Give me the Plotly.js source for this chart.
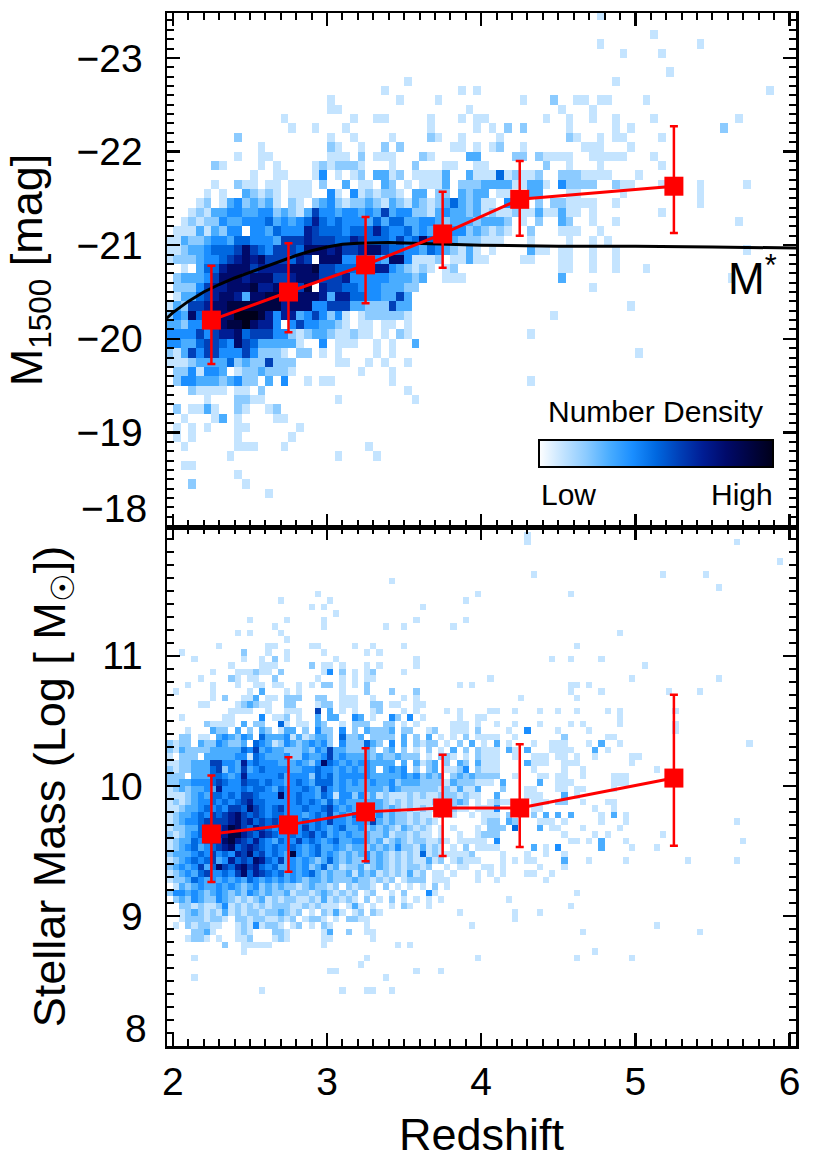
<!DOCTYPE html>
<html><head><meta charset="utf-8">
<script src="https://cdn.plot.ly/plotly-3.0.1.min.js"></script>
<style>html,body{margin:0;padding:0;background:#fff}</style>
</head><body>
<div id="chart" style="width:822px;height:1160px"></div>
<script>
// ---------- DATA ----------
// Density levels per cell ('.' = empty, 1..9, a = 10). Top panel: redshift bins 0.05 from 1.95, M1500 bins 0.1 from -23.5 (top row) downward.
const topRows = [
".......... .......... .......... .......... .......... ......1...",
"",
".......... .......... .......... .......... .......... .......... ...1",
".......... .......... .......... .......... .......... ......1... .........1",
".......... .......... .......... .......... .......... .........1 ....1",
"",
".......... .......... .......... .......... .......... .......... .....1",
".......... .......... .......... .1........ .......... ........1.",
".......... .......... ........1. ........1. 1......... .......... .......... ........1.",
".......... .......... .1........ 1....1.... ......1... 2..11.11.. ..1",
".......... .......... .11....... .........1 .......... .1...1",
".......... .....1.... ....1..11. ....1...1. 11.......1 ..1..1..1. ...1...... ....1",
".......... ......1..1 ...1...... ....1..... 1.1.2.2... ..1.....1. 1......... ..2",
".........2 .......... .1..1....1 ....21..1. ...1...... ..21..1.11 ....1",
".......... ..1....... .21..1..2. 2......11. 1.12..1... ....111... 1",
".........1 ..11...... .111.2.111 ...21....3 3....22.21 111..11111 ...1",
"......21.. ..1.1....1 212221...1 ..2...11.. 11.......2 ..1...1... ....1",
".......... .1..11...1 4.1.12.331 2.11113..3 111512112. .2221111.. .1",
"......1..2 11.11.111. 2..3.11.32 .1.1113.22 2333311331 .42222..21 1...1....1 .....1",
".....1.1.. 32121.111. .41.412122 1.33.22.32 33.11..33. ..11.....1 .........1",
"....12.134 23231.21.2 3421223213 2132123532 311.41..2. 221111..1. .........1",
"...1213344 3344232136 4434434363 4422134332 3121121131 1311.1.... ....1",
"..12122433 4445343457 5454443535 5334432333 23332.1.2. .32..1..1. .......... ....1",
".111313244 .443544476 5554555754 4534344442 32121..2.. .111..1...",
"1132234435 5444366676 6655765554 6458555322 2111...1.. ..1..1.1..",
"1123345556 8654666588 8786678865 5443543213 1.1....311 .11..1..1. .......... .....1",
"1222344567 878666576. 8884454438 841112.113 11....11.. .11..1..1.",
"..1.355788 8677778889 6655547774 32121.12.. .......... .11..1..1. ..1",
".233346888 7888667888 6667444443 3323..111. .......... .3........ .......... ...1",
".222467788 897788869. 7665544433 322....... .......... .....1",
".133567887 3889988888 7377554433 63",
"1326678899 9999978884 4666332226 33........ .......... .......... 1",
"243856788a aa97477346 4241.12222 21........ .......... 1",
"3324477899 a8774.4644 3321.11.11 .1",
"4444646778 5666442123 3211211.1. 21........ .......1",
"4433566548 65333331.. 4.111..1.1 ..3",
"2136466444 642221.22. 1.1....1.1 .......... .......... .......... .1",
"1112333352 3226222... ..11..1.1. .1",
".2241443.1 2232221... .....1...1",
".244333234 22.3.4..1. 11.......1 .......... .......1",
"...21111.1 1.2....... .......... .1",
".....1...2 211....... ..1....... ..1",
".2.1131..2 1..12",
"..1...13.1 ....11",
".1.1.1...1 1......1",
".1.1.....1 ......1",
"..1......1 11...1.... ......1",
"........1. .......... ..1....1",
"..11",
".........1",
"...2...... 1",
".......... ...1",
"", "", ""
];

// Bottom panel: redshift bins 0.04 from 1.96, stellar-mass bins 0.05 from 12.0 (top row) downward.
const botRows = [
"",
".......... .......... .......... .......... .......... ........1.",
".......... .......... .......... .......... .......... ........1. .......... .......... .......... ..1",
"", "",
".......... .......... .......... .......... .......... .......... .......... .......... .......... .........1",
"",
".......... .......... .......... .......... .......... .........1 .......... .......... 1......1",
".......... .......... .......... ......1",
".......... .......... .......... .......... .......... .......... .......... .......... .........1",
".......... .......... ....1..... .......... .......... 1......... .....1",
".......... ........1. ......1... .......... ........1",
".......... .......... ...1.1.... .......... .1",
".......... .......... .......1",
".......... ...1.....1 .....1.... .......... 1.......1",
".......... .......1.. .....1.... .....1..1. ......1",
".......... .1.1....1. .......... .......... .......... .......... .......... ...1",
".......... .........1",
"........1. ......11.. ...11..... 1..1....1. .......... .......... ......1",
"..1....... ..2...1..1 .....1.... ..1.1",
"....1..... ..1..1.2.1 .......1.. .......... 1......... .......... ..1..1.... 1",
".......... 1....111.. ...2.11.1. ..1.1..... 1......... .......... .......... .......1",
".......1.. .111211.2. .....14.2. 1.12....1.",
".....1.... 21.11..2.. ....1...1. 1.11...... .......... ..1....... .......... .....1.... .........1",
"...1...1.. .1..11.11. .1.1.22.1. 1.2....... .......1.1 .......... .....11.1.",
".1.....1.. ...1.3...1 .1......1. ..2...2... 2......... .......... .....1.... 1......... .1....1",
".......1.2 ..113.11.2 22..22..11 1..1....1. 1......... .......1.. ......1",
".....11... .123211..2 2...122.11 1..22.11.. 11",
".......... 1111..1..1 11..6.3.1. 1..12...1. 1....1.1.. ..11..1... 1..1..1... .1.1...... ..1",
"..1......1 1....4.112 .1..3.33.. 43.1..42.4 .1.....1.. 11........ .......... ...1",
"......2111 1.3.22..51 .11.32..1. 222..22.1. 1.....111. 1..1..1... 1....1.1.. ...1...... ..1",
"...1...322 .3.2.32.13 3.2.422.4. 2.32223.22 ..12..111. 2....1..4. ...1....1. .......... ..1",
"..22.11.34 3243.53334 1312332.52 23.2222.3. 2.3.1.1.2. 1111..1... ....2..... .11",
"2122.32243 223.543124 3234342.42 22532.4.3. 2122.1.2.3 .1.3.1...1 ..111...1. 3..1...... .......... ....1",
"2132222333 3354634332 2232436332 2232.23.2. 1.2.1.3.2. 2111.31.3. ..1111...3 .1",
"1.222.3333 3441543334 2243346343 3332322322 2.1.221.1. 2111..1..1 11.11.1..1 .....11",
"1122333664 4374544433 3432485434 3443333.3. 3123.2.32. 3111....31 11..111... .....1",
"2122333562 4363454444 3344544343 4343.3434. 2.23.1124. 2111.....1 ....1..1.. .........1",
"222.333554 3474444453 4442545344 4443333343 42323.2323 2222..1... 11.11..1.. ..111",
"2233444565 4465545443 4543555343 4334334233 3222213222 111.3..... 3..111.... ..111",
"1232334374 4454554354 4454364343 3333324322 2222121311 3...2...11 ...11.11.. ..1",
"1112343554 5466544484 4544354144 2423121112 1211222121 1..3....11 1...3.1",
"1212344545 4567554444 4545435343 3333321212 111221232. 1.12111..1 11.22..1.. .11",
"1123345454 6658654564 4454456434 3333323212 121111211. 1114.....1 1........1 ..1",
"1233454656 7865654554 4434546343 5433423221 211.2.1..1 .111.2...2 .3.3.3.... 1.3.1",
"1234456666 7867565655 5454546443 4436323221 2121...... .122.32... 111.1..... 1...1..... .......... ..1",
"1223356667 9865765454 5464543453 3423232132 121.1.1... 1.222.5... 3.11...1.. ...1",
"2123456677 9976576544 5456453434 3332231221 211.1..1.. 1222...... ....1....1 .1........ 1",
"1233545668 9765754354 4645434533 4432312321 221121.111 11.4...... .....11.1. 3...1..... .......... ...1",
"1234534567 8567654544 5434533432 3323232422 13121.1.2. 1111.....3 .1.4...... 3....1...1",
"2333454645 4768564543 9434534323 2342321212 1512111112 ....1...1. .1..1",
"1234545634 7565875463 4343235323 2242321212 11312.1211 1...1.1.11 ....3...1. ....1..... ....1..... ..1",
"2343463586 5786754533 4342352312 2312321212 212..1.11. .11.1..... 1...1",
"1234356445 4685765453 4345323223 1323121213 12.11.1... 1.1.1...11 ..1",
"1223543434 3435434343 4323323222 3221212.12 22.111.... 1..1...... .1",
".132343343 4323423232 21232212.2 1221.2.1.1 .1.2.1....",
"2443432343 2324323223 1221232121 2.12..1.2. ..41...... .......... ......1",
".232432243 2121231212 2112131212 1.2.1.2.1. 1.1.1..... .....1",
"..22121124 1212121222 11212111.1 31.1..1.21 ..1....... .......... .....1",
"..12321213 1212212232 12.1.2131. 12.21..... .......1.. ......1... 1",
"..12221221 .221221121 2.1221.1.2 211....... .......... ......1",
".1.212211. .12141221. 12.1.21... ..1....... .........1 .......... .......... .........1",
"....2231.. .121...221 .....13..2 ..11...... .......... .......... .......1.. .......... ......1",
"...1221.1. .112...121 .....11... ...1",
".........2 ..11111... .....1.... .......1.1",
".......... ..1....... .......... .......... .......... .......... .........1",
"....1..... .......... .......... ..1....... .......... 1......... ......1... .....1",
".......... .......... .......... .1",
".......... .......... ......11.. .......... 1...1",
"....1..... .......... .......... .....1",
"",
".......... .....1.... ........1. ..11..1",
"", "", "", "", "", "", "", ""
];

// M* characteristic magnitude curve
const mstarZ = [1.96, 2.0, 2.1, 2.2, 2.3, 2.4, 2.5, 2.6, 2.7, 2.8, 2.9, 3.0, 3.1, 3.2, 3.4, 3.6, 3.8, 4.0, 4.5, 5.0, 5.5, 6.05];
const mstarM = [-20.22, -20.28, -20.40, -20.50, -20.58, -20.65, -20.71, -20.77, -20.83, -20.89, -20.94, -20.98, -21.01, -21.02, -21.03, -21.02, -21.01, -21.00, -20.99, -20.99, -20.98, -20.97];

// Medians in redshift bins
const medZ = [2.25, 2.75, 3.25, 3.75, 4.25, 5.25];
const medM1500 = [-20.20, -20.50, -20.79, -21.12, -21.49, -21.63];
const m1500ErrBright = [0.58, 0.52, 0.51, 0.45, 0.41, 0.64];
const m1500ErrFaint = [0.47, 0.43, 0.41, 0.36, 0.39, 0.50];
const medMass = [9.63, 9.70, 9.80, 9.83, 9.83, 10.06];
const massErrHi = [0.45, 0.52, 0.49, 0.41, 0.49, 0.64];
const massErrLo = [0.37, 0.36, 0.38, 0.37, 0.30, 0.52];

// Tick labels
const m1500Ticks = [-23, -22, -21, -20, -19];
const massTicks = [9, 10, 11];
const zTicks = [2, 3, 4, 5, 6];

// ---------- BUILD ----------
const LEVELS = '.123456789a';
function parseRows(rows, ncol) {
  return rows.map(function (s) {
    s = s.replace(/ /g, '');
    const out = [];
    for (let i = 0; i < ncol; i++) {
      const v = LEVELS.indexOf(s[i] || '.');
      out.push(v > 0 ? v : null);
    }
    return out;
  });
}
const topNx = 81, botNx = 102;
const topX = Array.from({length: topNx}, (_, i) => 1.975 + 0.05 * i);
const topY = topRows.map((_, r) => -23.45 + 0.1 * r);
const botX = Array.from({length: botNx}, (_, i) => 1.98 + 0.04 * i);
const botY = botRows.map((_, r) => 11.975 - 0.05 * r);

const cscale = [
  [0.0, '#ffffff'], [0.1, '#c4e4ff'], [0.2, '#8ccbff'], [0.3, '#4aadff'],
  [0.4, '#1a8eff'], [0.5, '#0068e0'], [0.6, '#0040b8'], [0.7, '#001d94'],
  [0.8, '#000a6a'], [0.9, '#000442'], [1.0, '#00001a']
];

const FONT = 'Liberation Sans, Arial, Helvetica, sans-serif';
const RED = '#ff0000';

const traces = [
  {type: 'heatmap', x: topX, y: topY, z: parseRows(topRows, topNx), xaxis: 'x', yaxis: 'y',
   zmin: 0, zmax: 10, colorscale: cscale, hoverinfo: 'skip', zsmooth: false,
   showscale: true,
   colorbar: {orientation: 'h', x: 0.777, xanchor: 'center', y: 0.5586, yanchor: 'bottom',
              len: 234, lenmode: 'pixels', thickness: 27, thicknessmode: 'pixels',
              outlinewidth: 2, outlinecolor: '#000', showticklabels: false, ticks: '',
              xpad: 0, ypad: 0, borderwidth: 0}},
  {type: 'heatmap', x: botX, y: botY, z: parseRows(botRows, botNx), xaxis: 'x2', yaxis: 'y2',
   zmin: 0, zmax: 10, colorscale: cscale, hoverinfo: 'skip', zsmooth: false, showscale: false},
  {type: 'scatter', mode: 'lines', x: mstarZ, y: mstarM, xaxis: 'x', yaxis: 'y',
   line: {color: '#000', width: 3}, hoverinfo: 'skip'},
  {type: 'scatter', mode: 'lines+markers', x: medZ, y: medM1500, xaxis: 'x', yaxis: 'y',
   line: {color: RED, width: 3}, marker: {symbol: 'square', size: 19, color: RED},
   error_y: {type: 'data', symmetric: false, array: m1500ErrFaint, arrayminus: m1500ErrBright,
             color: RED, thickness: 2.5, width: 4}, hoverinfo: 'skip'},
  {type: 'scatter', mode: 'lines+markers', x: medZ, y: medMass, xaxis: 'x2', yaxis: 'y2',
   line: {color: RED, width: 3}, marker: {symbol: 'square', size: 19, color: RED},
   error_y: {type: 'data', symmetric: false, array: massErrHi, arrayminus: massErrLo,
             color: RED, thickness: 2.5, width: 4}, hoverinfo: 'skip'}
];

function ax(extra) {
  return Object.assign({
    showline: true, linecolor: '#000', linewidth: 2.5, mirror: 'allticks',
    ticks: 'inside', ticklen: 13, tickwidth: 2.5, tickcolor: '#000',
    showgrid: false, zeroline: false,
    tickfont: {family: FONT, size: 39, color: '#000'},
    minor: {ticks: 'inside', ticklen: 7, tickwidth: 2, tickcolor: '#000', dtick: 0.1, showgrid: false}
  }, extra);
}
const titleFont = {family: FONT, size: 45, color: '#000'};
const tickFontAnn = {family: FONT, size: 39, color: '#000'};

const layout = {
  width: 822, height: 1160,
  margin: {l: 167, r: 26, t: 13, b: 114},
  paper_bgcolor: '#fff', plot_bgcolor: 'rgba(0,0,0,0)',
  showlegend: false,
  font: {family: FONT, color: '#000'},
  xaxis: ax({range: [1.962, 6.042], anchor: 'y', showticklabels: false, matches: 'x2',
             tickmode: 'array', tickvals: zTicks}),
  xaxis2: ax({range: [1.962, 6.042], anchor: 'y2', ticklabelstandoff: 0,
              tickmode: 'array', tickvals: zTicks, ticktext: zTicks.map(String),
              title: {text: 'Redshift', font: titleFont, standoff: 18}}),
  yaxis: ax({domain: [0.5024, 1], range: [-17.99, -23.48], anchor: 'x', ticklabelstandoff: 14,
             tickmode: 'array', tickvals: m1500Ticks, ticktext: m1500Ticks.map(v => '\u2212' + Math.abs(v)),
             title: {text: 'M<sub>1500</sub> [mag]', font: titleFont, standoff: 20}}),
  yaxis2: ax({domain: [0, 0.5024], range: [8, 11.99], anchor: 'x2', ticklabelstandoff: 14,
              tickmode: 'array', tickvals: massTicks, ticktext: massTicks.map(String),
              title: {text: 'Stellar Mass (Log [ M<sub>☉</sub>])', font: titleFont, standoff: 20}}),
  annotations: [
    {xref: 'x', yref: 'y', x: 5.59, y: -20.68, xanchor: 'left', yanchor: 'middle', showarrow: false,
     text: 'M<sup>*</sup>', font: {family: FONT, size: 44, color: '#000'}},
    {xref: 'paper', yref: 'paper', x: 0.776, y: 0.6138, xanchor: 'center', yanchor: 'middle', showarrow: false,
     text: 'Number Density', font: {family: FONT, size: 30, color: '#000'}},
    {xref: 'paper', yref: 'paper', x: 0.5914, y: 0.5334, xanchor: 'left', yanchor: 'middle', showarrow: false,
     text: 'Low', font: {family: FONT, size: 30, color: '#000'}},
    {xref: 'paper', yref: 'paper', x: 0.9666, y: 0.5334, xanchor: 'right', yanchor: 'middle', showarrow: false,
     text: 'High', font: {family: FONT, size: 30, color: '#000'}},
    // lowest tick labels, set slightly above the panel edge as in the original
    {xref: 'paper', yref: 'paper', x: -0.029, y: 0.5208, xanchor: 'right', yanchor: 'middle', showarrow: false,
     text: '\u221218', font: tickFontAnn},
    {xref: 'paper', yref: 'paper', x: -0.029, y: 0.0165, xanchor: 'right', yanchor: 'middle', showarrow: false,
     text: '8', font: tickFontAnn}
  ]
};

Plotly.newPlot('chart', traces, layout, {displayModeBar: false, staticPlot: true});
</script>
</body></html>
